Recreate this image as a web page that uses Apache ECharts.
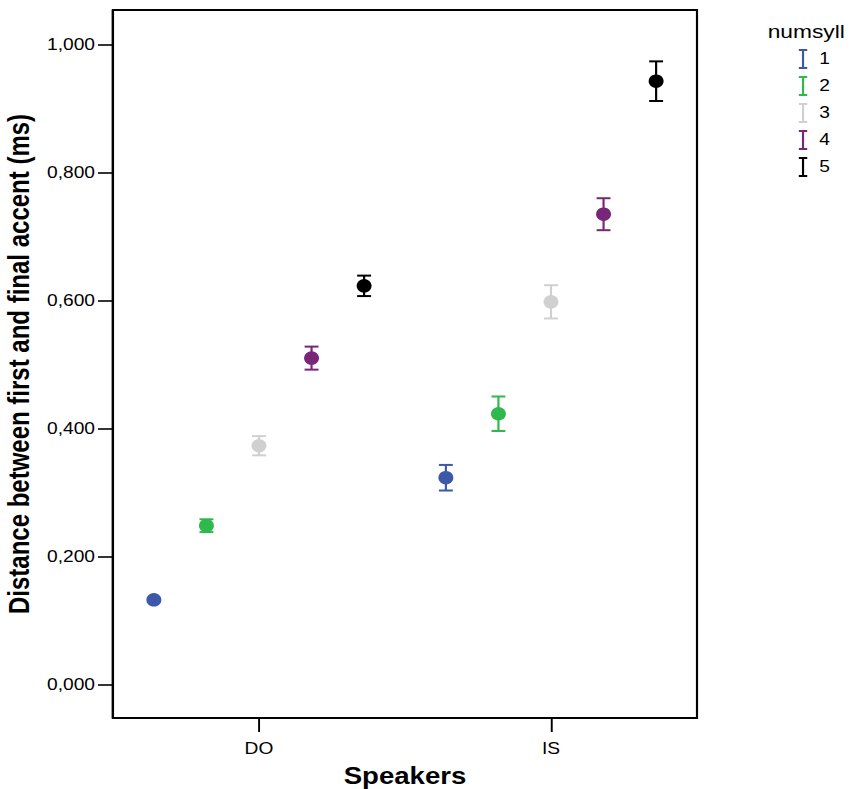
<!DOCTYPE html>
<html>
<head>
<meta charset="utf-8">
<script src="https://cdn.jsdelivr.net/npm/echarts@6/dist/echarts.min.js"></script>
<style>
  html, body { margin: 0; padding: 0; background: #fff; overflow: hidden; }
  /* the figure is drawn at its native width and widened to fill the page */
  #chart { width: 712px; height: 789px; transform: scaleX(1.19944); transform-origin: 0 0; }
</style>
</head>
<body>
<div id="chart"></div>
<script>
// Speakers on the x axis, one marker per number of syllables
const speakers = ['DO', 'IS'];
const numsyll = ['1', '2', '3', '4', '5'];
const colors = ['#3d57a9', '#2fb84c', '#d0d0d0', '#772679', '#000000'];

// Mean distance and half-width of the error bar, per speaker, per numsyll
const meanDO = [0.132, 0.248, 0.373, 0.510, 0.623];
const meanIS = [0.323, 0.423, 0.598, 0.735, 0.943];
const errDO = [0.003, 0.010, 0.015, 0.018, 0.016];
const errIS = [0.020, 0.027, 0.026, 0.025, 0.031];

const yTicks = [0, 0.2, 0.4, 0.6, 0.8, 1.0];

// Horizontal dodge for each numsyll group within a speaker
const dodge = [-0.36, -0.18, 0, 0.18, 0.36];

const means = [meanDO, meanIS];
const errs = [errDO, errIS];

const font = 'Liberation Sans, Arial, sans-serif';
// error-bar glyph used as legend icon
const iconI = 'path://M0,0 L7,0 L7,2 L4.4,2 L4.4,18 L7,18 L7,20 L0,20 L0,18 L2.6,18 L2.6,2 L0,2 Z';

const series = [];
numsyll.forEach((ns, k) => {
  const pts = speakers.map((sp, i) => [i + dodge[k], means[i][k], errs[i][k]]);
  series.push({
    name: ns,
    type: 'custom',
    data: pts,
    z: 2,
    renderItem: function (params, api) {
      const x = api.value(0), y = api.value(1), e = api.value(2);
      const lo = api.coord([x, y - e]);
      const hi = api.coord([x, y + e]);
      const cap = 5.8;
      const st = { stroke: colors[k], lineWidth: 2 };
      return {
        type: 'group',
        children: [
          { type: 'line', shape: { x1: lo[0], y1: lo[1], x2: hi[0], y2: hi[1] }, style: { stroke: colors[k], lineWidth: 1.8 } },
          { type: 'line', shape: { x1: lo[0] - cap, y1: lo[1], x2: lo[0] + cap, y2: lo[1] }, style: st },
          { type: 'line', shape: { x1: hi[0] - cap, y1: hi[1], x2: hi[0] + cap, y2: hi[1] }, style: st }
        ]
      };
    },
    itemStyle: { color: colors[k] }
  });
  series.push({
    name: ns,
    type: 'scatter',
    data: pts.map(p => [p[0], p[1]]),
    symbol: 'circle',
    symbolSize: [12.5, 13.5],
    itemStyle: { color: colors[k], opacity: 1 },
    z: 3
  });
});

const chart = echarts.init(document.getElementById('chart'), null, { renderer: 'svg', width: 712, height: 789 });
chart.setOption({
  animation: false,
  backgroundColor: '#ffffff',
  title: {
    text: 'numsyll',
    left: 635,
    top: 17,
    textStyle: { fontFamily: font, fontSize: 19, fontWeight: 'normal', color: '#000' }
  },
  legend: {
    orient: 'vertical',
    left: 661,
    top: 44,
    itemWidth: 7,
    itemHeight: 20,
    itemGap: 7,
    data: numsyll.map((ns, k) => ({ name: ns, icon: iconI, itemStyle: { color: colors[k] } })),
    textStyle: { fontFamily: font, fontSize: 16, color: '#000', padding: [0, 0, 0, 5] },
    selectedMode: false
  },
  grid: {
    left: 94.2, top: 10, width: 486.9, height: 708,
    show: true, borderColor: '#000', borderWidth: 1.8,
    containLabel: false, outerBoundsMode: 'none'
  },
  xAxis: {
    type: 'value',
    min: -0.5,
    max: 1.5,
    name: 'Speakers',
    nameLocation: 'middle',
    nameGap: 46,
    nameTextStyle: { fontFamily: font, fontSize: 23, fontWeight: 'bold', color: '#000' },
    axisLine: { show: true, onZero: false, lineStyle: { color: '#000', width: 2 } },
    axisTick: { show: true, length: 14, lineStyle: { color: '#000', width: 1.6 }, customValues: [0, 1] },
    axisLabel: {
      show: true, margin: 23, customValues: [0, 1],
      fontFamily: font, fontSize: 16, color: '#000',
      formatter: v => speakers[Math.round(v)]
    },
    splitLine: { show: false }
  },
  yAxis: {
    type: 'value',
    min: -0.0527,
    max: 1.0543,
    name: 'Distance between first and final accent (ms)',
    nameLocation: 'middle',
    nameGap: 57,
    nameTextStyle: { fontFamily: font, fontSize: 24, fontWeight: 'bold', color: '#000' },
    axisLine: { show: true, onZero: false, lineStyle: { color: '#000', width: 1.8 } },
    axisTick: { show: true, length: 12.5, lineStyle: { color: '#000', width: 1.6 }, customValues: yTicks },
    axisLabel: {
      show: true, margin: 15, customValues: yTicks,
      fontFamily: font, fontSize: 16, color: '#000',
      formatter: v => v.toFixed(3).replace('.', ',')
    },
    splitLine: { show: false }
  },
  series: series
});
</script>
</body>
</html>
